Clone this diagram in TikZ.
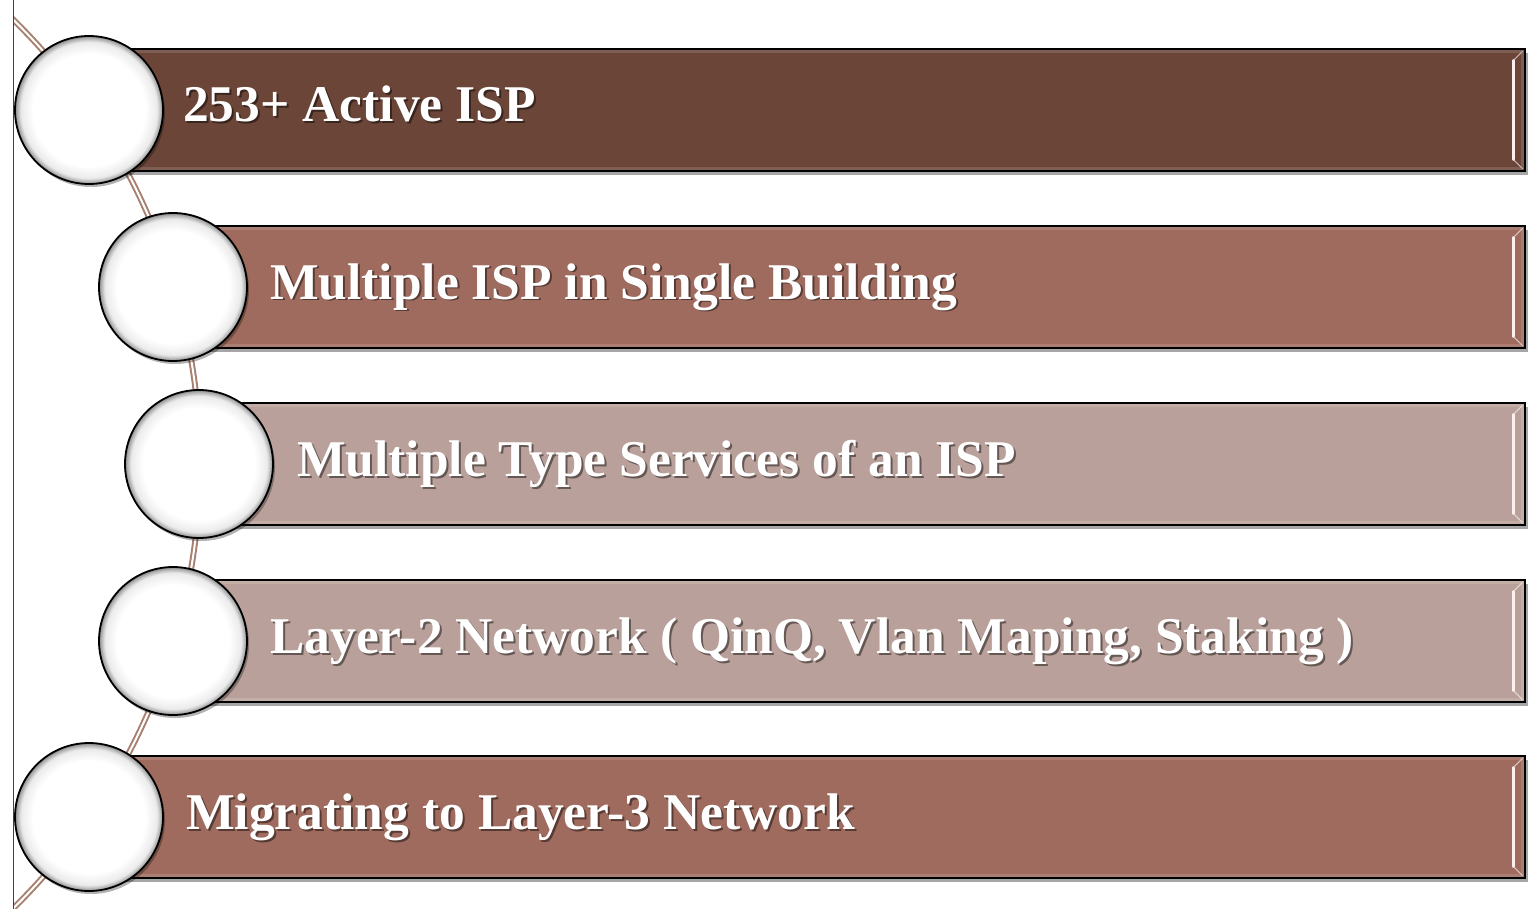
\documentclass[tikz,border=0pt]{standalone}
\usepackage{fontspec}
\setmainfont{Liberation Serif}
\usetikzlibrary{shadows}
\definecolor{barA}{HTML}{6B4538}
\definecolor{barB}{HTML}{9E6B5E}
\definecolor{barC}{HTML}{B9A09A}
\definecolor{arcc}{HTML}{A8806F}
\pgfdeclareradialshading{ballshade}{\pgfpoint{0bp}{0bp}}{color(0bp)=(white); color(19bp)=(white); color(23bp)=(black!8); color(24.5bp)=(black!35); color(25bp)=(black!50); color(50bp)=(black!50)}
\tikzset{
  barbox/.style={draw=black, line width=1.6pt, fill=#1, rectangle, inner sep=0pt,
    minimum height=122pt, anchor=west,
    drop shadow={shadow xshift=3pt, shadow yshift=-4pt, opacity=0.35, fill=black}},
  rim/.style={draw=#1, line width=3pt, opacity=0.45},
  bevel/.style={draw=white!75!pink, line width=2.4pt, line cap=round},
  ball/.style={circle, draw=black, line width=1.8pt, minimum size=148pt, inner sep=0pt,
    shading=ballshade,
    drop shadow={shadow xshift=2pt, shadow yshift=-3pt, opacity=0.3, fill=black}},
  lbl/.style={anchor=base west, text=white, font=\fontsize{51.5}{60}\selectfont\bfseries, inner sep=0pt},
  lblsh/.style={anchor=base west, text=black, opacity=0.45, font=\fontsize{51.5}{60}\selectfont\bfseries, inner sep=0pt},
  conn/.style={draw=arcc, line width=2pt, double=white, double distance=2pt},
  frame/.style={draw=black!75, line width=1pt}
}
\begin{document}
\begin{tikzpicture}[x=1pt,y=-1pt]
\useasboundingbox (0,0) rectangle (1536,909);
\fill[white] (0,0) rectangle (1536,909);
% left vertical line
\coordinate (vt) at (13,0);
\coordinate (vb) at (13,909);
\draw[frame] (vt) -- (vb);
% connecting arc
\begin{scope}
\clip (14,0) rectangle (1536,909);
\coordinate (ac) at (-422,464);
\draw[conn] ([shift={(-47:622)}]ac) arc[start angle=-47, end angle=47, radius=622];
\end{scope}
% bars
\node[barbox=barA, minimum width=1435pt] (b1) at (89,110) {};
\node[barbox=barB, minimum width=1351pt] (b2) at (173,287) {};
\node[barbox=barC, minimum width=1325pt] (b3) at (199,464) {};
\node[barbox=barC, minimum width=1351pt] (b4) at (173,641) {};
\node[barbox=barB, minimum width=1435pt] (b5) at (89,817) {};
\foreach \b/\c in {b1/barA,b2/barB,b3/barC,b4/barC,b5/barB}{
  \draw[rim=\c!70!white] ([shift={(3pt,-3pt)}]\b.north west) rectangle ([shift={(-3pt,3pt)}]\b.south east);
  \draw[bevel] ([shift={(-12pt,-12pt)}]\b.north east) -- ([shift={(-12pt,12pt)}]\b.south east);
  \draw[draw=white!60!\c, line width=1pt] ([shift={(-12pt,-12pt)}]\b.north east) -- ([shift={(-3pt,-3pt)}]\b.north east);
  \draw[draw=white!60!\c, line width=1pt] ([shift={(-12pt,12pt)}]\b.south east) -- ([shift={(-3pt,3pt)}]\b.south east);
}
% circles
\node[ball] (c1) at (89,110) {};
\node[ball] (c2) at (173,287) {};
\node[ball] (c3) at (199,464) {};
\node[ball] (c4) at (173,641) {};
\node[ball] (c5) at (89,817) {};
% labels
\node[lblsh] (s1) at (185,124) {253+ Active ISP};
\node[lbl] (t1) at (183,122) {253+ Active ISP};
\node[lblsh] (s2) at (272,301) {Multiple ISP in Single Building};
\node[lbl] (t2) at (270,299) {Multiple ISP in Single Building};
\node[lblsh] (s3) at (299,478) {Multiple Type Services of an ISP};
\node[lbl] (t3) at (297,476) {Multiple Type Services of an ISP};
\node[lblsh] (s4) at (272,655) {Layer-2 Network ( QinQ, Vlan Maping, Staking )};
\node[lbl] (t4) at (270,653) {Layer-2 Network ( QinQ, Vlan Maping, Staking )};
\node[lblsh] (s5) at (188,831) {Migrating to Layer-3 Network};
\node[lbl] (t5) at (186,829) {Migrating to Layer-3 Network};
\end{tikzpicture}
\end{document}
